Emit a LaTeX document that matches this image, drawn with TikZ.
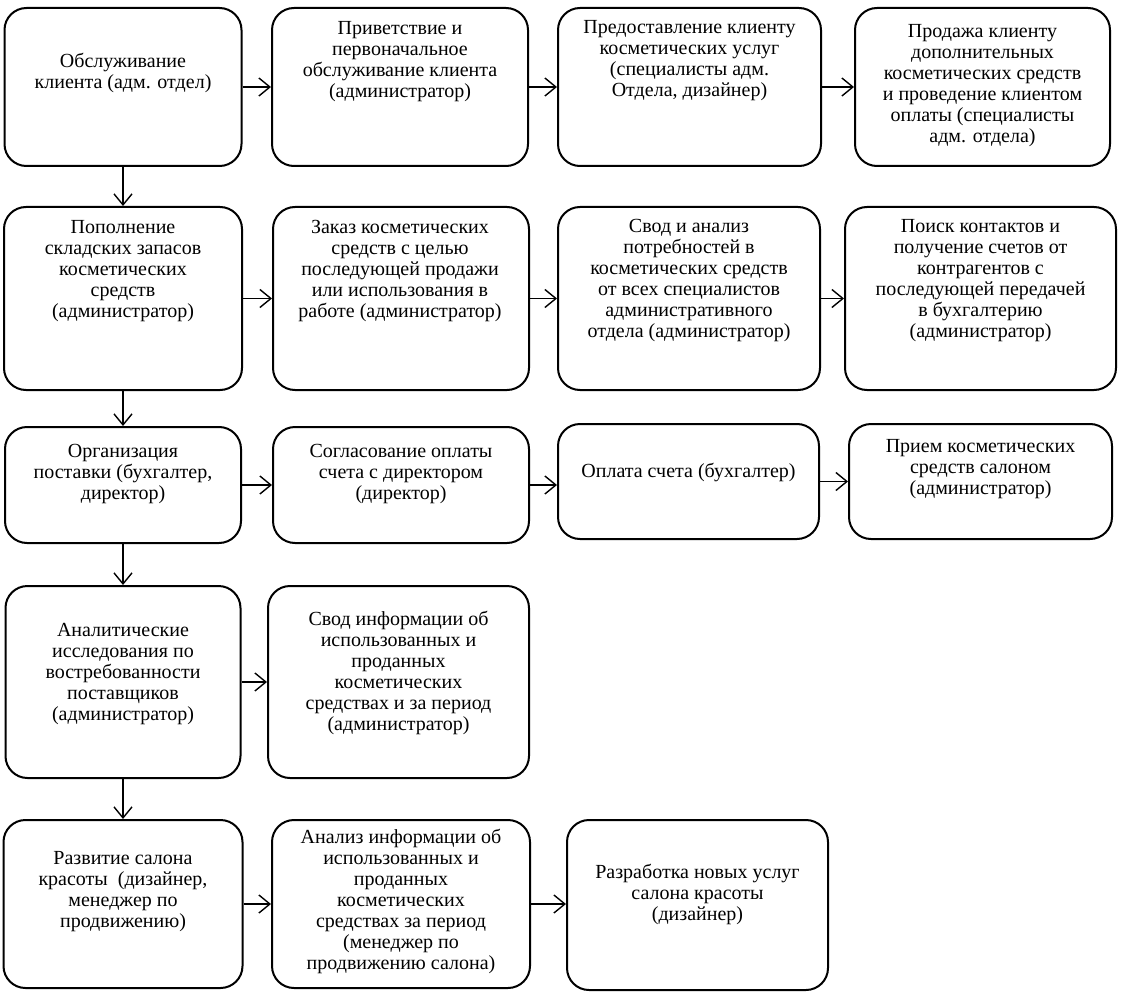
\documentclass[tikz,border=0pt]{standalone}
\usepackage{fontspec}
\setmainfont{Liberation Serif}
\usetikzlibrary{arrows.meta}
\tikzset{
  blok/.style={draw, line width=1pt, rounded corners=11pt, inner sep=0pt},
  txt/.style={align=center, inner sep=0pt, font=\fontsize{10pt}{10.5pt}\selectfont},
  strelka/.style={line width=0.7pt, -{Straight Barb[length=5.5pt,width=9pt]}}
}
\begin{document}
\begin{tikzpicture}[x=0.5pt,y=-0.5pt]
  \useasboundingbox (0,0) rectangle (1123,1000);
  % row 1
  \node (a1) at (123,87) [blok, minimum width=118.5pt, minimum height=79pt] {};
  \node (a2) at (400,87) [blok, minimum width=128pt, minimum height=79pt] {};
  \node (a3) at (689.5,87) [blok, minimum width=131.5pt, minimum height=79pt] {};
  \node (a4) at (982.5,87) [blok, minimum width=127.5pt, minimum height=79pt] {};
  \node (ta1) at (123,73) [txt] {Обслуживание\\клиента (адм. отдел)};
  \node (ta2) at (400,62) [txt] {Приветствие и\\первоначальное\\обслуживание клиента\\(администратор)};
  \node (ta3) at (689.5,61) [txt] {Предоставление клиенту\\косметических услуг\\(специалисты адм.\\Отдела, дизайнер)};
  \node (ta4) at (982.5,86) [txt] {Продажа клиенту\\дополнительных\\косметических средств\\и проведение клиентом\\оплаты (специалисты\\адм. отдела)};
  % row 2
  \node (b1) at (123,298.5) [blok, minimum width=119pt, minimum height=91.5pt] {};
  \node (b2) at (401,298.5) [blok, minimum width=128pt, minimum height=91.5pt] {};
  \node (b3) at (689,298.5) [blok, minimum width=131pt, minimum height=91.5pt] {};
  \node (b4) at (980.5,298.5) [blok, minimum width=135.5pt, minimum height=91.5pt] {};
  \node (tb1) at (123,271) [txt] {Пополнение\\складских запасов\\косметических\\средств\\(администратор)};
  \node (tb2) at (400,271) [txt] {Заказ косметических\\средств с целью\\последующей продажи\\или использования в\\работе (администратор)};
  \node (tb3) at (689,281) [txt] {Свод и анализ\\потребностей в\\косметических средств\\от всех специалистов\\административного\\отдела (администратор)};
  \node (tb4) at (980.5,281) [txt] {Поиск контактов и\\получение счетов от\\контрагентов с\\последующей передачей\\в бухгалтерию\\(администратор)};
  % row 3
  \node (c1) at (123,485) [blok, minimum width=118pt, minimum height=58pt] {};
  \node (c2) at (401,485) [blok, minimum width=128pt, minimum height=58pt] {};
  \node (c3) at (688.5,481.5) [blok, minimum width=130.5pt, minimum height=57.5pt] {};
  \node (c4) at (980.5,481.5) [blok, minimum width=131.5pt, minimum height=57.5pt] {};
  \node (tc1) at (123,474) [txt] {Организация\\поставки (бухгалтер,\\директор)};
  \node (tc2) at (401,474) [txt] {Согласование оплаты\\счета с директором\\(директор)};
  \node (tc3) at (688.5,472) [txt] {Оплата счета (бухгалтер)};
  \node (tc4) at (980.5,469) [txt] {Прием косметических\\средств салоном\\(администратор)};
  % row 4
  \node (d1) at (123,682) [blok, minimum width=117.5pt, minimum height=96pt] {};
  \node (d2) at (398.5,682) [blok, minimum width=130.5pt, minimum height=96pt] {};
  \node (td1) at (123,674) [txt] {Аналитические\\исследования по\\востребованности\\поставщиков\\(администратор)};
  \node (td2) at (398.5,673) [txt] {Свод информации об\\использованных и\\проданных\\косметических\\средствах и за период\\(администратор)};
  % row 5
  \node (e1) at (123,904) [blok, minimum width=119.5pt, minimum height=84pt] {};
  \node (e2) at (401,904) [blok, minimum width=129pt, minimum height=84pt] {};
  \node (e3) at (697.5,905) [blok, minimum width=130.5pt, minimum height=85pt] {};
  \node (te1) at (123,892) [txt] {Развитие салона\\красоты \ (дизайнер,\\менеджер по\\продвижению)};
  \node (te2) at (401,901) [txt] {Анализ информации об\\использованных и\\проданных\\косметических\\средствах за период\\(менеджер по\\продвижению салона)};
  \node (te3) at (697.5,894) [txt] {Разработка новых услуг\\салона красоты\\(дизайнер)};
  % arrows across
  \draw[strelka] (a1.east) -- (a1.east -| a2.west); \draw[strelka] (a2.east) -- (a2.east -| a3.west);
  \draw[strelka] (a3.east) -- (a3.east -| a4.west);
  \draw[strelka] (b1.east) -- (b1.east -| b2.west); \draw[strelka] (b2.east) -- (b2.east -| b3.west);
  \draw[strelka] (b3.east) -- (b3.east -| b4.west);
  \draw[strelka] (c1.east) -- (c1.east -| c2.west); \draw[strelka] (c2.east) -- (c2.east -| c3.west);
  \draw[strelka] (c3.east) -- (c3.east -| c4.west);
  \draw[strelka] (d1.east) -- (d1.east -| d2.west);
  \draw[strelka] (e1.east) -- (e1.east -| e2.west); \draw[strelka] (e2.east) -- (e2.east -| e3.west);
  % arrows down
  \draw[strelka] (a1.south) -- (b1.north); \draw[strelka] (b1.south) -- (c1.north);
  \draw[strelka] (c1.south) -- (d1.north); \draw[strelka] (d1.south) -- (e1.north);
\end{tikzpicture}
\end{document}
